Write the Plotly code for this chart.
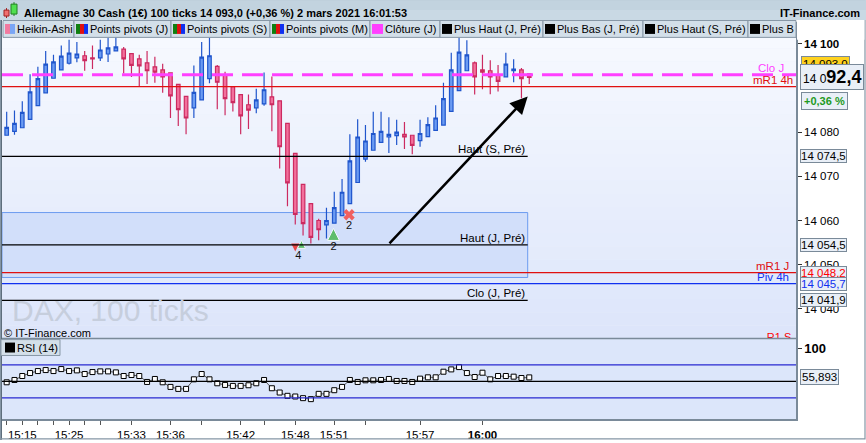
import plotly.graph_objects as go

# Heikin-Ashi bars, DAX 100 ticks
bars = list(range(68))
ha_open = [14079.3, 14080.2, 14081.0, 14082.9, 14086.0, 14088.9, 14092.2, 14094.1, 14095.6, 14096.8,
           14097.3, 14096.8, 14096.8, 14097.7, 14098.4, 14098.8, 14097.8, 14096.6, 14095.7, 14094.8,
           14094.1, 14093.4, 14090.8, 14088.1, 14085.5, 14087.3, 14092.1, 14094.9, 14093.0, 14090.3,
           14088.5, 14086.2, 14085.5, 14086.4, 14088.0, 14087.1, 14082.0, 14075.2, 14068.2, 14063.8,
           14060.0, 14059.0, 14059.4, 14061.1, 14063.8, 14068.6, 14073.9, 14075.9, 14077.7, 14078.9,
           14079.2, 14079.5, 14079.3, 14078.1, 14079.0, 14080.4, 14081.6, 14084.7, 14089.4, 14093.9,
           14095.7, 14094.1, 14093.9, 14093.0, 14092.5, 14093.9, 14094.1, 14093.2]
ha_high = [14084.6, 14084.9, 14087.0, 14093.1, 14094.8, 14098.4, 14097.5, 14099.6, 14100.9, 14100.4,
           14098.4, 14099.6, 14100.9, 14101.5, 14101.8, 14099.3, 14097.8, 14097.5, 14098.4, 14097.1,
           14095.5, 14093.4, 14090.8, 14088.1, 14095.1, 14100.4, 14101.5, 14095.2, 14093.7, 14090.3,
           14088.5, 14088.5, 14089.8, 14093.5, 14092.6, 14087.1, 14082.0, 14075.2, 14068.2, 14063.8,
           14060.4, 14062.9, 14066.5, 14069.4, 14079.5, 14082.9, 14081.6, 14084.6, 14084.6, 14083.4,
           14082.8, 14082.3, 14079.3, 14082.8, 14083.4, 14086.1, 14091.2, 14098.0, 14101.5, 14100.8,
           14096.0, 14097.5, 14096.3, 14095.2, 14098.0, 14096.5, 14094.5, 14093.2]
ha_low = [14079.3, 14079.4, 14081.0, 14082.9, 14086.0, 14088.9, 14092.2, 14094.1, 14095.3, 14095.8,
          14093.9, 14094.3, 14096.1, 14095.9, 14098.4, 14093.3, 14092.5, 14090.3, 14090.9, 14091.2,
          14088.9, 14083.2, 14081.4, 14079.5, 14083.2, 14087.3, 14091.1, 14085.2, 14083.8, 14084.7,
          14079.5, 14080.7, 14084.3, 14086.0, 14080.2, 14071.8, 14063.2, 14059.1, 14056.6, 14054.8,
          14055.5, 14055.9, 14059.4, 14061.1, 14063.8, 14068.6, 14073.3, 14075.9, 14077.7, 14075.3,
          14077.1, 14076.2, 14075.0, 14076.7, 14079.0, 14080.4, 14081.6, 14084.7, 14089.4, 14093.9,
          14088.5, 14089.7, 14088.6, 14089.2, 14092.5, 14091.3, 14087.7, 14090.9]
ha_close = [14081.1, 14082.0, 14084.5, 14089.1, 14092.1, 14095.4, 14095.9, 14097.2, 14097.9, 14097.7,
            14096.2, 14096.6, 14098.6, 14099.1, 14099.3, 14096.6, 14095.1, 14095.0, 14093.9, 14093.6,
            14092.5, 14088.2, 14085.1, 14083.2, 14089.0, 14097.0, 14097.3, 14091.3, 14087.6, 14086.7,
            14083.7, 14085.0, 14087.3, 14089.6, 14086.2, 14076.7, 14068.5, 14061.4, 14059.3, 14056.2,
            14057.9, 14060.0, 14062.9, 14066.4, 14073.5, 14078.9, 14078.0, 14079.7, 14080.2, 14079.5,
            14080.0, 14078.9, 14077.0, 14079.7, 14081.7, 14083.2, 14087.6, 14094.1, 14098.1, 14097.5,
            14092.5, 14093.6, 14092.5, 14091.5, 14095.4, 14094.3, 14092.1, 14092.4]

rsi = [48.5, 52, 58, 62.5, 65.5, 67, 65.5, 68.5, 65.5, 66.5,
       61, 64, 65, 65, 63.5, 58, 59.5, 58, 49, 53.5,
       48.5, 41.5, 38.5, 38.5, 53, 61, 53, 47, 44.5, 43,
       43, 44, 47, 52, 39.5, 33, 28, 27, 24.5, 23,
       31, 31, 36.5, 41.5, 52, 49, 51.5, 51.5, 52, 53.5,
       50.5, 50.5, 49, 54, 56, 56, 64.5, 68, 71.5, 62.5,
       56.5, 63, 53, 58, 58, 57, 55, 55.893]

time_ticks = [0, 2, 4, 6, 8, 10, 12, 16, 21, 25, 30, 33, 37, 42, 46, 53, 61]
time_labels = ["", "15:15", "", "", "15:25", "", "", "15:33", "15:36", "", "15:42", "",
               "15:48", "15:51", "", "15:57", "<b>16:00</b>"]

price_ticks = [14040, 14050, 14060, 14070, 14080, 14100]
price_labels = ["14 040", "14 050", "14 060", "14 070", "14 080", "<b>14 100</b>"]

# levels
clo_j = 14093.0
mr1_4h = 14090.3
haut_s_pre = 14074.5
zone_top, zone_bottom = 14061.8, 14047.1
haut_j_pre = 14054.5
mr1_j = 14048.2
piv_4h = 14045.7
clo_j_pre = 14041.9
r1_s = 14033.3
last_price = 14092.4
last_rsi = 55.893

# signals (arrow tips)
down_x, down_y = [37.0], [14053.0]
up_x, up_y = [37.8, 41.9], [14055.5, 14058.2]
exit_x, exit_y = [43.9], [14061.3]
count_x, count_y, count_txt = [37.4, 41.9, 43.9], [14051.8, 14054.0, 14058.6], ["4", "2", "2"]

arrow_from = (48.9, 14054.5)
arrow_to = (66.8, 14088.1)

FONT = "Liberation Sans, Arial, sans-serif"
FS = 11
W, H = 866, 443
ML, MR, MT, MB = 2, 70, 22, 21


def px(X):
    return (X - ML) / (W - ML - MR)


def py(Y):
    return (H - MB - Y) / (H - MT - MB)


fig = go.Figure()

fig.add_trace(go.Candlestick(
    x=bars, open=ha_open, high=ha_high, low=ha_low, close=ha_close,
    increasing=dict(line=dict(color="#1F55CC", width=1.2), fillcolor="#6B9BF2"),
    decreasing=dict(line=dict(color="#CC2A60", width=1.2), fillcolor="#F2709C"),
    whiskerwidth=0, showlegend=False, hoverinfo="skip", xaxis="x", yaxis="y"))

fig.add_trace(go.Scatter(x=down_x, y=down_y, mode="markers", xaxis="x", yaxis="y",
                         marker=dict(symbol="arrow-down", size=8, color="#E84848"), showlegend=False))
fig.add_trace(go.Scatter(x=up_x, y=up_y, mode="markers", xaxis="x", yaxis="y",
                         marker=dict(symbol="arrow-up", size=[8, 12], color="#2EB02E"), showlegend=False))
fig.add_trace(go.Scatter(x=exit_x, y=exit_y, mode="markers", xaxis="x", yaxis="y",
                         marker=dict(symbol="x", size=10, color="#F06060"), showlegend=False))
fig.add_trace(go.Scatter(x=count_x, y=count_y, mode="text", text=count_txt, xaxis="x", yaxis="y",
                         textfont=dict(family=FONT, size=FS, color="#111"), showlegend=False))
fig.add_trace(go.Scatter(x=[100.6], y=[r1_s], mode="text", text=["R1 S"], textposition="middle left",
                         xaxis="x", yaxis="y", cliponaxis=True,
                         textfont=dict(family=FONT, size=FS, color="#FF0000"), showlegend=False))

fig.add_trace(go.Scatter(x=bars, y=rsi, mode="lines+markers", xaxis="x2", yaxis="y2",
                         line=dict(color="#555555", width=1),
                         marker=dict(symbol="square", size=5, color="white",
                                     line=dict(color="black", width=1)),
                         showlegend=False, hoverinfo="skip"))

shapes = []
# gradient background of price panel
top_c, bot_c = (248, 250, 255), (220, 229, 250)
n = 24
for k in range(n):
    t = (k + 0.5) / n
    c = tuple(round(top_c[j] + (bot_c[j] - top_c[j]) * t) for j in range(3))
    y0 = 22 + (341 - 22) * k / n
    y1 = 22 + (341 - 22) * (k + 1) / n
    shapes.append(dict(type="rect", xref="paper", yref="paper", x0=0, x1=1, y0=py(y1), y1=py(y0),
                       fillcolor="rgb(%d,%d,%d)" % c, line_width=0, layer="below"))
# RSI panel background
shapes.append(dict(type="rect", xref="paper", yref="paper", x0=0, x1=1, y0=0, y1=py(341),
                   fillcolor="#DCE6FA", line_width=0, layer="below"))

zone_end = 66.8
shapes.append(dict(type="rect", xref="x", yref="y", x0=-0.6, x1=zone_end, y0=zone_bottom, y1=zone_top,
                   fillcolor="#D2DFFA", line=dict(color="#6C9CF0", width=1), layer="below"))


def hline(y, color, width=1.3, dash="solid", x1=None, yref="y"):
    if x1 is None:
        shapes.append(dict(type="line", xref="paper", yref=yref, x0=0, x1=1, y0=y, y1=y,
                           line=dict(color=color, width=width, dash=dash), layer="above"))
    else:
        shapes.append(dict(type="line", xref="x", yref=yref, x0=-0.6, x1=x1, y0=y, y1=y,
                           line=dict(color=color, width=width, dash=dash), layer="above"))


hline(mr1_4h, "#E01010")
hline(haut_s_pre, "#000000", x1=zone_end)
hline(haut_j_pre, "#000000", x1=zone_end)
hline(mr1_j, "#E01010")
hline(piv_4h, "#1030F0")
hline(clo_j_pre, "#000000", x1=zone_end)
hline(clo_j, "#FF40FF", width=3, dash="21px,9px")
hline(75, "#2828D0", yref="y2")
hline(25, "#2828D0", yref="y2")
hline(50, "#000000", yref="y2")

# panel separators / frame
shapes.append(dict(type="line", xref="paper", yref="paper", x0=px(0), x1=1, y0=py(341), y1=py(341),
                   line=dict(color="#7A8A99", width=1.5)))
shapes.append(dict(type="line", xref="paper", yref="paper", x0=px(1), x1=px(1), y0=py(443), y1=py(20),
                   line=dict(color="#5A6A78", width=2)))
shapes.append(dict(type="rect", xref="paper", yref="paper", x0=px(0.5), x1=px(865), y0=py(442), y1=py(0.5),
                   line=dict(color="#8596A5", width=1.2)))

# title bar
shapes.append(dict(type="rect", xref="paper", yref="paper", x0=px(0), x1=px(866), y0=py(20), y1=py(0),
                   fillcolor="#C9D9E4", line_width=0, layer="above"))
shapes.append(dict(type="rect", xref="paper", yref="paper", x0=px(0), x1=px(866), y0=py(10), y1=py(0),
                   fillcolor="#C2D3DF", line_width=0, layer="above"))
# title icon
shapes.append(dict(type="line", xref="paper", yref="paper", x0=px(6.5), x1=px(6.5), y0=py(18), y1=py(8),
                   line=dict(color="#A02020", width=1), layer="above"))
shapes.append(dict(type="rect", xref="paper", yref="paper", x0=px(4), x1=px(9), y0=py(16), y1=py(10),
                   fillcolor="#F07070", line=dict(color="#A02020", width=1), layer="above"))
shapes.append(dict(type="line", xref="paper", yref="paper", x0=px(14), x1=px(14), y0=py(16), y1=py(2),
                   line=dict(color="#208020", width=1), layer="above"))
shapes.append(dict(type="rect", xref="paper", yref="paper", x0=px(11), x1=px(17), y0=py(14), y1=py(4),
                   fillcolor="#50E050", line=dict(color="#208020", width=1), layer="above"))

# indicator legend row
legend_items = ["Heikin-Ashi", "Points pivots (J)", "Points pivots (S)", "Points pivots (M)",
                "Clôture (J)", "Plus Haut (J, Pré)", "Plus Bas (J, Pré)", "Plus Haut (S, Pré)", "Plus B"]
legend_icons = ["ha", "pp", "pp", "pp", "clo", "blk", "blk", "blk", "blk"]
legend_edges = [3, 74, 171, 270, 370, 440, 543, 643, 748, 796]

annotations = []
for k, (lab, ic) in enumerate(zip(legend_items, legend_icons)):
    L, R = legend_edges[k], legend_edges[k + 1]
    shapes.append(dict(type="rect", xref="paper", yref="paper", x0=px(L), x1=px(R), y0=py(37.5), y1=py(20.5),
                       fillcolor="#D3DFE9", line=dict(color="#8797A6", width=1), layer="above"))
    a = L + 2
    if ic == "ha":
        cols = [("#F27AA0", a, a + 5), ("#7AA6F5", a + 5, a + 10)]
    elif ic == "pp":
        cols = [("#108010", a, a + 4), ("#E01010", a + 4, a + 8), ("#1030F0", a + 8, a + 12)]
    elif ic == "clo":
        cols = [("#FF40FF", a, a + 11)]
    else:
        cols = [("#000000", a, a + 10)]
    for col, c0, c1 in cols:
        shapes.append(dict(type="rect", xref="paper", yref="paper", x0=px(c0), x1=px(c1), y0=py(34), y1=py(24),
                           fillcolor=col, line_width=0, layer="above"))
    annotations.append(dict(xref="paper", yref="paper", x=px(cols[-1][2]), y=py(29), text=lab,
                            showarrow=False, xanchor="left", yanchor="middle",
                            font=dict(family=FONT, size=FS, color="#000")))
# cover beyond the plot for the cut "Plus B" box
shapes.append(dict(type="rect", xref="paper", yref="paper", x0=px(797), x1=px(864.4), y0=py(40), y1=py(20),
                   fillcolor="white", line_width=0, layer="above"))

# RSI legend box
shapes.append(dict(type="rect", xref="paper", yref="paper", x0=px(1), x1=px(60), y0=py(358), y1=py(342),
                   fillcolor="#D3DFE9", line=dict(color="#8797A6", width=1), layer="above"))
shapes.append(dict(type="rect", xref="paper", yref="paper", x0=px(5), x1=px(15), y0=py(355), y1=py(345),
                   fillcolor="#000000", line_width=0, layer="above"))
annotations.append(dict(xref="paper", yref="paper", x=px(15), y=py(350.5), text="RSI (14)", showarrow=False,
                        xanchor="left", yanchor="middle", font=dict(family=FONT, size=FS, color="#000")))

# titles
annotations.append(dict(xref="paper", yref="paper", x=px(22), y=py(13), showarrow=False, xanchor="left",
                        yanchor="middle",
                        text="<b>Allemagne 30 Cash (1€) 100 ticks 14 093,0 (+0,36 %) 2 mars 2021 16:01:53</b>",
                        font=dict(family=FONT, size=FS, color="#000")))
annotations.append(dict(xref="paper", yref="paper", x=px(862), y=py(13), showarrow=False, xanchor="right",
                        yanchor="middle", text="<b>IT-Finance.com</b>", font=dict(family=FONT, size=FS, color="#000")))

# watermark
annotations.append(dict(xref="paper", yref="paper", x=px(10), y=py(313), showarrow=False, xanchor="left",
                        yanchor="middle", text="DAX, 100 ticks", font=dict(family=FONT, size=30, color="#C6CEDD")))
annotations.append(dict(xref="paper", yref="paper", x=px(2), y=py(335), showarrow=False, xanchor="left",
                        yanchor="middle", text="© IT-Finance.com", font=dict(family=FONT, size=FS, color="#000")))

# line labels
line_labels = [
    ("Clo J", clo_j, 786, "#FF40FF"),
    ("mR1 4h", mr1_4h, 795, "#E01010"),
    ("mR1 J", mr1_j, 791, "#E01010"),
    ("Piv 4h", piv_4h, 791, "#1030F0"),
]
for txt, y, xr, col in line_labels:
    annotations.append(dict(xref="paper", yref="y", x=px(xr), y=y, text=txt, showarrow=False, xanchor="right",
                            yanchor="bottom", yshift=-1, font=dict(family=FONT, size=FS + 0.5, color=col)))
for txt, y in [("Haut (S, Pré)", haut_s_pre), ("Haut (J, Pré)", haut_j_pre), ("Clo (J, Pré)", clo_j_pre)]:
    annotations.append(dict(xref="x", yref="y", x=zone_end - 0.1, y=y, text=txt, showarrow=False, xanchor="right",
                            yanchor="bottom", yshift=-1, font=dict(family=FONT, size=FS + 0.5, color="#000")))

# trend arrow
annotations.append(dict(xref="x", yref="y", axref="x", ayref="y", x=arrow_to[0], y=arrow_to[1],
                        ax=arrow_from[0], ay=arrow_from[1], text="", showarrow=True, arrowhead=2,
                        arrowsize=1.4, arrowwidth=2.5, arrowcolor="#000"))

# value boxes on the price axis
box_bg = "#E9EFF7"
box_line = "#7A8A99"
price_boxes = [
    (haut_s_pre, "14 074,5", "#000"),
    (haut_j_pre, "14 054,5", "#000"),
    (mr1_j, "14 048,2", "#FF0000"),
    (piv_4h, "14 045,7", "#1030F0"),
    (clo_j_pre, "14 041,9", "#000"),
]
annotations.append(dict(xref="paper", yref="y", x=1, xshift=5, y=clo_j, yshift=11, xanchor="left",
                        text="14 093,0", showarrow=False, bgcolor="#FFD21F", bordercolor=box_line,
                        borderwidth=1, borderpad=1, font=dict(family=FONT, size=FS + 0.5, color="#000")))
for y, txt, col in price_boxes:
    annotations.append(dict(xref="paper", yref="y", x=1, xshift=4, y=y, xanchor="left", yanchor="middle",
                            text=txt, showarrow=False, bgcolor=box_bg, bordercolor=box_line,
                            borderwidth=1, borderpad=0, font=dict(family=FONT, size=FS + 0.5, color=col)))
annotations.append(dict(xref="paper", yref="y", x=1, xshift=4, y=last_price, xanchor="left", yanchor="middle",
                        text='14 0<span style="font-size:18px"><b>92,4</b></span>', showarrow=False,
                        bgcolor=box_bg, bordercolor=box_line, borderwidth=1, borderpad=2,
                        font=dict(family=FONT, size=12, color="#000")))
annotations.append(dict(xref="paper", yref="y", x=1, xshift=5, y=last_price, yshift=-24, xanchor="left",
                        yanchor="middle", text="<b>+0,36 %</b>", showarrow=False, bgcolor=box_bg,
                        bordercolor=box_line, borderwidth=1, borderpad=2,
                        font=dict(family=FONT, size=FS, color="#1E9A1E")))
annotations.append(dict(xref="paper", yref="y2", x=1, xshift=4, y=last_rsi, xanchor="left", yanchor="middle",
                        text="55,893", showarrow=False, bgcolor=box_bg, bordercolor=box_line,
                        borderwidth=1, borderpad=1, font=dict(family=FONT, size=FS + 0.5, color="#000")))

fig.update_layout(
    width=W, height=H,
    margin=dict(l=ML, r=MR, t=MT, b=MB),
    paper_bgcolor="white", plot_bgcolor="#EAF0FC",
    font=dict(family=FONT, size=FS, color="#000"),
    showlegend=False, hovermode=False, boxgap=0.35,
    shapes=shapes, annotations=annotations,
    xaxis=dict(domain=[0, 1], anchor="y", range=[-0.6, 101.2], showticklabels=False, showgrid=False,
               zeroline=False, rangeslider=dict(visible=False), fixedrange=True),
    xaxis2=dict(domain=[0, 1], anchor="y2", matches="x", range=[-0.6, 101.2], showgrid=False, zeroline=False,
                tickmode="array", tickvals=time_ticks, ticktext=time_labels, ticks="outside", ticklen=4,
                tickcolor="#555", showline=True, linecolor="#7A8A99", linewidth=1.5,
                tickfont=dict(family=FONT, size=FS + 0.5, color="#000")),
    yaxis=dict(domain=[py(341), 1], anchor="x", side="right", range=[14033.26, 14104.94], showgrid=False,
               zeroline=False, tickmode="array", tickvals=price_ticks, ticktext=price_labels,
               ticks="outside", ticklen=4, tickcolor="#333", showline=True, linecolor="#7A8A99",
               linewidth=1.5, tickfont=dict(family=FONT, size=FS + 0.5, color="#000")),
    yaxis2=dict(domain=[0, py(341)], anchor="x2", side="right", range=[-7.06, 114.6], showgrid=False,
                zeroline=False, tickmode="array", tickvals=[100], ticktext=["<b>100</b>"],
                ticks="outside", ticklen=4, tickcolor="#333", showline=True, linecolor="#7A8A99",
                linewidth=1.5, tickfont=dict(family=FONT, size=FS + 2, color="#000")),
)

fig.write_html("out.html", config={"displayModeBar": False},
               post_script="document.body.style.margin='0';document.body.style.overflow='hidden';")
